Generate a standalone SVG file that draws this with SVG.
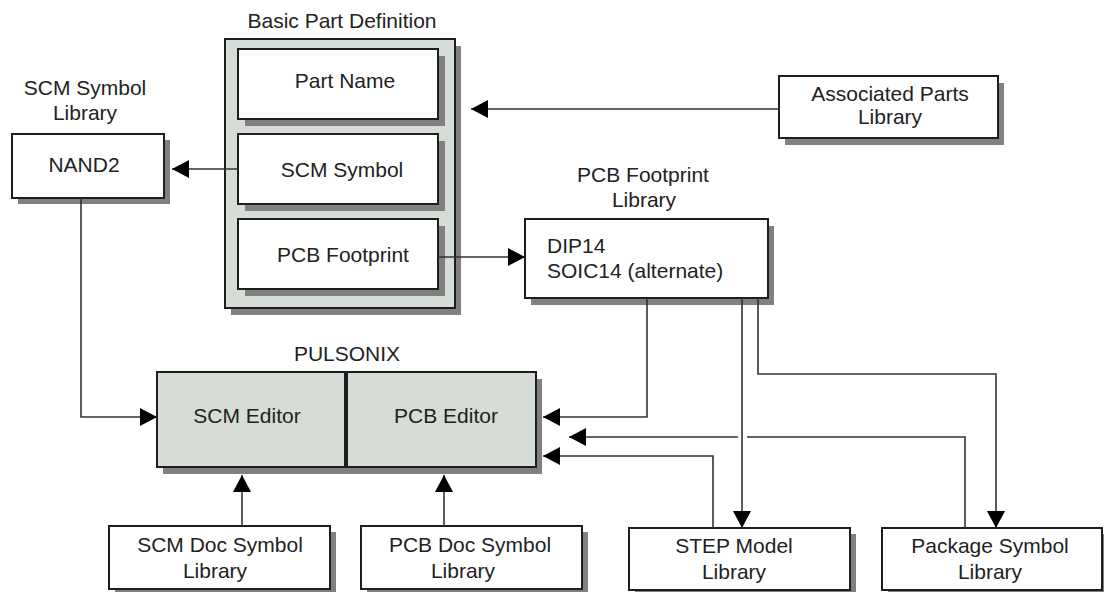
<svg xmlns="http://www.w3.org/2000/svg" width="1104" height="592" viewBox="0 0 1104 592">
<style>
text{font-family:"Liberation Sans",Arial,sans-serif;font-size:21px;fill:#222}
.c{text-anchor:middle}
.sh{fill:#808080}
.bx{fill:#fff;stroke:#1e1e1e;stroke-width:2}
.gb{fill:#d6ddd6;stroke:#1e1e1e;stroke-width:2}
.ln{fill:none;stroke:#333;stroke-width:1.6}
</style>
<defs>
<marker id="ah" markerUnits="userSpaceOnUse" markerWidth="17" markerHeight="18" viewBox="0 0 17 18" refX="17" refY="9" orient="auto">
<path d="M0,0 L17,9 L0,18 z" fill="#000"/>
</marker>
</defs>
<rect width="1104" height="592" fill="#fff"/>

<g id="basic-part-definition">
<text class="c" x="342" y="28">Basic Part Definition</text>
<rect class="sh" x="231" y="46" width="230" height="269"/>
<rect class="gb" x="225" y="39" width="230" height="269"/>
</g>
<g id="part-name">
<rect class="sh" x="245" y="56" width="200" height="70"/>
<rect class="bx" x="238" y="49" width="200" height="70"/>
<text class="c" x="345" y="88">Part Name</text>
</g>
<g id="scm-symbol">
<rect class="sh" x="245" y="141" width="200" height="70"/>
<rect class="bx" x="238" y="134" width="200" height="70"/>
<text class="c" x="342" y="177">SCM Symbol</text>
</g>
<g id="pcb-footprint">
<rect class="sh" x="245" y="226" width="200" height="70"/>
<rect class="bx" x="238" y="219" width="200" height="70"/>
<text class="c" x="343" y="262">PCB Footprint</text>
</g>

<g id="scm-symbol-library">
<text class="c" x="85" y="95">SCM Symbol</text>
<text class="c" x="85" y="120">Library</text>
<rect class="sh" x="18" y="140" width="152" height="64"/>
<rect class="bx" x="12" y="134" width="152" height="64"/>
<text class="c" x="84" y="172">NAND2</text>
</g>

<g id="associated-parts-library">
<rect class="sh" x="785" y="83" width="219" height="62"/>
<rect class="bx" x="779" y="76" width="219" height="62"/>
<text class="c" x="890" y="101">Associated Parts</text>
<text class="c" x="890" y="124">Library</text>
</g>

<g id="pcb-footprint-library">
<text class="c" x="643" y="182">PCB Footprint</text>
<text class="c" x="644" y="207">Library</text>
<rect class="sh" x="531" y="226" width="243" height="79"/>
<rect class="bx" x="525" y="219" width="243" height="79"/>
<text x="547" y="253">DIP14</text>
<text x="547" y="278">SOIC14 (alternate)</text>
</g>

<g id="pulsonix">
<text class="c" x="347" y="361">PULSONIX</text>
<rect class="sh" x="163" y="379" width="379" height="95"/>
</g>
<g id="scm-editor">
<rect class="gb" x="157" y="372" width="188" height="95"/>
<text class="c" x="247" y="423">SCM Editor</text>
</g>
<g id="pcb-editor">
<rect class="gb" x="347" y="372" width="189" height="95"/>
<text class="c" x="446" y="423">PCB Editor</text>
</g>

<g id="scm-doc-symbol-library">
<rect class="sh" x="115" y="532" width="221" height="63"/>
<rect class="bx" x="109" y="526" width="221" height="63"/>
<text class="c" x="220" y="552">SCM Doc Symbol</text>
<text class="c" x="215" y="578">Library</text>
</g>
<g id="pcb-doc-symbol-library">
<rect class="sh" x="367" y="532" width="221" height="63"/>
<rect class="bx" x="361" y="526" width="221" height="63"/>
<text class="c" x="470" y="552">PCB Doc Symbol</text>
<text class="c" x="463" y="578">Library</text>
</g>
<g id="step-model-library">
<rect class="sh" x="635" y="534" width="221" height="62"/>
<rect class="bx" x="629" y="528" width="221" height="62"/>
<text class="c" x="734" y="553">STEP Model</text>
<text class="c" x="734" y="579">Library</text>
</g>
<g id="package-symbol-library">
<rect class="sh" x="888" y="534" width="220" height="62"/>
<rect class="bx" x="882" y="528" width="220" height="62"/>
<text class="c" x="990" y="553">Package Symbol</text>
<text class="c" x="990" y="579">Library</text>
</g>

<g id="connectors">
<path class="ln" d="M779,109 H471" marker-end="url(#ah)"/>
<path class="ln" d="M238,169 H172" marker-end="url(#ah)"/>
<path class="ln" d="M438,257 H525" marker-end="url(#ah)"/>
<path class="ln" d="M81,198 V417 H157" marker-end="url(#ah)"/>
<path class="ln" d="M647,298 V417 H543" marker-end="url(#ah)"/>
<path class="ln" d="M742,298 V528" marker-end="url(#ah)"/>
<path class="ln" d="M758,298 V374 H996 V528" marker-end="url(#ah)"/>
<path class="ln" d="M965,528 V437 H747"/>
<path class="ln" d="M738,437 H569" marker-end="url(#ah)"/>
<path class="ln" d="M713,528 V456 H543" marker-end="url(#ah)"/>
<path class="ln" d="M242,526 V475" marker-end="url(#ah)"/>
<path class="ln" d="M444,526 V475" stroke-width="2.6" marker-end="url(#ah)"/>
</g>
</svg>
